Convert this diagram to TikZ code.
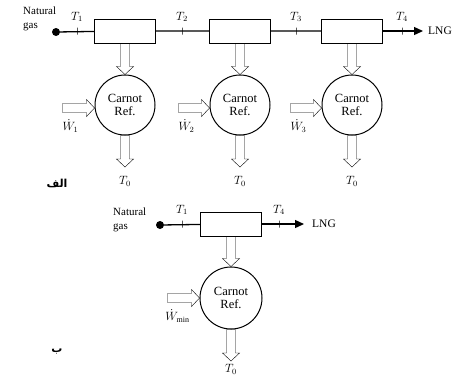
\documentclass[tikz,border=0pt]{standalone}
\usepackage{fontspec}
\setmainfont{Liberation Serif}
\newfontfamily\arabicfont[Script=Arabic]{DejaVu Sans}
\TeXXeTstate=1
\usetikzlibrary{calc,arrows.meta}

\tikzset{
  hx/.style={draw, line width=1pt, fill=white, minimum width=61pt, minimum height=24pt, inner sep=0pt},
  carnot/.style={draw, line width=1pt, circle, minimum size=60pt, inner sep=0pt, align=center, font=\fontsize{12.5}{13}\selectfont},
  inlet/.style={circle, fill=black, minimum size=8pt, inner sep=0pt},
  tmark/.style={draw, line width=0.7pt, minimum width=0pt, minimum height=7pt, inner sep=0pt},
  stream/.style={line width=1.3pt},
  txt/.style={font=\fontsize{11}{13.5}\selectfont, inner sep=0pt},
  lbl/.style={font=\fontsize{12}{13}\selectfont, inner sep=0pt},
  fat/.style={draw, line width=1pt, fill=white, to path={
    ($(\tikztostart)!4.5pt!90:(\tikztotarget)$)
    -- ($(\tikztotarget)!8pt!(\tikztostart)!4.5pt!-90:(\tikztostart)$)
    -- ($(\tikztotarget)!8pt!(\tikztostart)!8.5pt!-90:(\tikztostart)$)
    -- (\tikztotarget)
    -- ($(\tikztotarget)!8pt!(\tikztostart)!8.5pt!90:(\tikztostart)$)
    -- ($(\tikztotarget)!8pt!(\tikztostart)!4.5pt!90:(\tikztostart)$)
    -- ($(\tikztostart)!4.5pt!-90:(\tikztotarget)$) -- cycle}}
}

\begin{document}
\begin{tikzpicture}[x=1pt, y=-1pt]
    \useasboundingbox (0,0) rectangle (462,376);

    % (a) three stage cascade
    \node[txt, align=left, anchor=north west] (gasA) at (23,7) {Natural\\gas};
    \node[inlet] (inA) at (56,32) {};
    \node[hx] (hx1) at (125,31) {};
    \node[hx] (hx2) at (240,31) {};
    \node[hx] (hx3) at (352,31) {};
    \coordinate (lngA) at (423,31);
    \node[txt, anchor=west] (lngAtxt) at (428,31) {\fontsize{11.5}{13}\selectfont LNG};

    % Stream line
    \draw[stream] (inA) -- (hx1) (hx1) -- (hx2) (hx2) -- (hx3);
    \draw[stream, -{Triangle[length=9pt, width=8pt]}] (hx3.east) -- (lngA);

    % Temperature marks
    \node[tmark, label={[lbl, yshift=5pt]above:$T_1$}] (t1) at (77,31) {};
    \node[tmark, label={[lbl, yshift=5pt]above:$T_2$}] (t2) at (182,31) {};
    \node[tmark, label={[lbl, yshift=5pt]above:$T_3$}] (t3) at (296,31) {};
    \node[tmark, label={[lbl, yshift=5pt]above:$T_4$}] (t4) at (402,31) {};

    % Carnot refrigerators
    \node[carnot] (ref1) at (125,105) {Carnot\\Ref.};
    \node[carnot] (ref2) at (240,105) {Carnot\\Ref.};
    \node[carnot] (ref3) at (352,105) {Carnot\\Ref.};

    % Heat flows
    \draw (hx1.south) to[fat] (ref1.north);
    \draw (hx2.south) to[fat] (ref2.north);
    \draw (hx3.south) to[fat] (ref3.north);
    \coordinate (out1) at (125,167);
    \coordinate (out2) at (240,167);
    \coordinate (out3) at (352,167);
    \draw (ref1.south) to[fat] (out1);
    \draw (ref2.south) to[fat] (out2);
    \draw (ref3.south) to[fat] (out3);
    \node[lbl, below=9pt] at (out1) {$T_0$};
    \node[lbl, below=9pt] at (out2) {$T_0$};
    \node[lbl, below=9pt] at (out3) {$T_0$};

    % Work inputs
    \coordinate (w1) at ([xshift=-32pt, yshift=-3pt]ref1.west);
    \coordinate (w2) at ([xshift=-31pt, yshift=-3pt]ref2.west);
    \coordinate (w3) at ([xshift=-31pt, yshift=-3pt]ref3.west);
    \draw (w1) to[fat] ([yshift=-3pt]ref1.west);
    \draw (w2) to[fat] ([yshift=-3pt]ref2.west);
    \draw (w3) to[fat] ([yshift=-3pt]ref3.west);
    \node[lbl] at ([xshift=8pt, yshift=-18pt]w1) {$\dot W_1$};
    \node[lbl] at ([xshift=8pt, yshift=-18pt]w2) {$\dot W_2$};
    \node[lbl] at ([xshift=8pt, yshift=-18pt]w3) {$\dot W_3$};

    \node[txt] (capA) at (57,183) {\arabicfont\bfseries\beginR الف\endR};

    % (b) single reversible refrigerator
    \node[txt, align=left, anchor=north west] (gasB) at (113,208) {Natural\\gas};
    \node[inlet] (inB) at (160,225) {};
    \node[hx] (hx4) at (231,224) {};
    \coordinate (lngB) at (304,224);
    \node[txt, anchor=west] (lngBtxt) at (312,224) {\fontsize{11.5}{13}\selectfont LNG};
    \draw[stream] (inB) -- (hx4);
    \draw[stream, -{Triangle[length=9pt, width=8pt]}] (hx4.east) -- (lngB);
    \node[tmark, label={[lbl, yshift=5pt]above:$T_1$}] (t5) at (182,224) {};
    \node[tmark, label={[lbl, yshift=5pt]above:$T_4$}] (t6) at (279,224) {};

    \node[carnot, minimum size=62pt] (ref4) at (231,298) {Carnot\\Ref.};
    \draw (hx4.south) to[fat] (ref4.north);
    \coordinate (out4) at (231,361);
    \draw (ref4.south) to[fat] (out4);
    \node[lbl, below=3pt] at (out4) {$T_0$};
    \coordinate (w4) at ([xshift=-32pt]ref4.west);
    \draw (w4) to[fat] (ref4.west);
    \node[lbl] at ([xshift=10pt, yshift=-18pt]w4) {$\dot W_{\min}$};

    \node[txt] (capB) at (57,352) {\arabicfont\bfseries\beginR ب\endR};
\end{tikzpicture}
\end{document}
